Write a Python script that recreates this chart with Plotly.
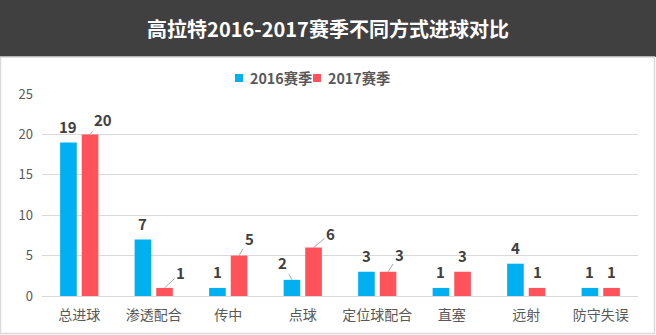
import plotly.graph_objects as go

categories = ["总进球", "渗透配合", "传中", "点球", "定位球配合", "直塞", "远射", "防守失误"]
goals_2016 = [19, 7, 1, 2, 3, 1, 4, 1]
goals_2017 = [20, 1, 5, 6, 3, 3, 1, 1]
series_names = ["2016赛季", "2017赛季"]
y_ticks = [0, 5, 10, 15, 20, 25]

# label leader-line offsets (pixels) for labels Excel moved: (series index, category index) -> (ax, ay)
leader_offsets = {
    (1, 0): (13, -15),
    (1, 1): (16, -15),
    (1, 2): (10, -17),
    (0, 3): (-9, -17),
    (1, 3): (17, -14),
    (1, 4): (11, -17),
}

W, H = 656, 335
ML, MR, MT, MB = 42, 18, 94, 39
PW = W - ML - MR
PH = H - MT - MB

FONT = "Noto Sans CJK SC, Microsoft YaHei, sans-serif"
BLUE = "#00b0f0"
RED = "#ff525b"
COLORS = [BLUE, RED]

fig = go.Figure()
fig.add_trace(go.Bar(x=categories, y=goals_2016, name=series_names[0],
                     marker_color=BLUE, marker_line_width=0))
fig.add_trace(go.Bar(x=categories, y=goals_2017, name=series_names[1],
                     marker_color=RED, marker_line_width=0))

annotations = []
shift = 10.8
for si, vals in enumerate([goals_2016, goals_2017]):
    xs = -shift if si == 0 else shift
    for ci, v in enumerate(vals):
        key = (si, ci)
        if key in leader_offsets:
            ax, ay = leader_offsets[key]
            annotations.append(dict(x=categories[ci], y=v, xshift=xs, text="<b>%d</b>" % v,
                                    showarrow=True, arrowhead=0, arrowwidth=1, arrowcolor="#a6a6a6",
                                    ax=ax, ay=ay, standoff=0, startstandoff=0,
                                    font=dict(family=FONT, size=15, color="#404040")))
        else:
            annotations.append(dict(x=categories[ci], y=v, xshift=xs, yshift=16, text="<b>%d</b>" % v,
                                    showarrow=False, yanchor="middle",
                                    font=dict(family=FONT, size=15, color="#404040")))

def px_x(p):
    return (p - ML) / PW

def px_y(p):
    return (H - MB - p) / PH

shapes = [
    dict(type="rect", xref="paper", yref="paper", x0=px_x(0), x1=px_x(W), y0=px_y(57), y1=px_y(0),
         fillcolor="#404040", line_width=0, layer="below"),
    dict(type="rect", xref="paper", yref="paper", x0=px_x(0.5), x1=px_x(W - 1.5), y0=px_y(H - 1.5), y1=px_y(57),
         fillcolor="rgba(0,0,0,0)", line=dict(color="#d9d9d9", width=1.5), layer="below"),
]

# manual legend (Excel-style compact)
legend_sq_x = [235, 313]
for i, name in enumerate(series_names):
    x0 = legend_sq_x[i]
    shapes.append(dict(type="rect", xref="paper", yref="paper", x0=px_x(x0), x1=px_x(x0 + 8),
                       y0=px_y(82), y1=px_y(74), fillcolor=COLORS[i], line_width=0))
    annotations.append(dict(xref="paper", yref="paper", x=px_x(x0 + 13), y=px_y(78),
                            xanchor="left", yanchor="middle", showarrow=False,
                            text="<b>%s</b>" % name,
                            font=dict(family=FONT, size=14.3, color="#595959")))

fig.update_layout(
    width=W, height=H,
    margin=dict(l=ML, r=MR, t=MT, b=MB),
    paper_bgcolor="white", plot_bgcolor="white",
    barmode="group", bargap=0.42, bargroupgap=0.23,
    font=dict(family=FONT, color="#595959"),
    showlegend=False,
    title=dict(text="<b>高拉特2016-2017赛季不同方式进球对比</b>", x=0.5, xref="container", xanchor="center",
               y=1 - 30 / H, yref="container", yanchor="middle",
               font=dict(family=FONT, size=20, color="white")),
    xaxis=dict(showgrid=False, showline=True, linecolor="#d9d9d9", linewidth=1, ticks="",
               ticklabelstandoff=6,
               tickfont=dict(family=FONT, size=14, color="#595959")),
    yaxis=dict(range=[0, 25], tickvals=y_ticks, showgrid=True, gridcolor="#d9d9d9", gridwidth=1,
               zeroline=False, showline=False, ticks="", ticklabelstandoff=8,
               tickfont=dict(family=FONT, size=13, color="#595959")),
    annotations=annotations,
    shapes=shapes,
)

fig.write_html("out.html")
